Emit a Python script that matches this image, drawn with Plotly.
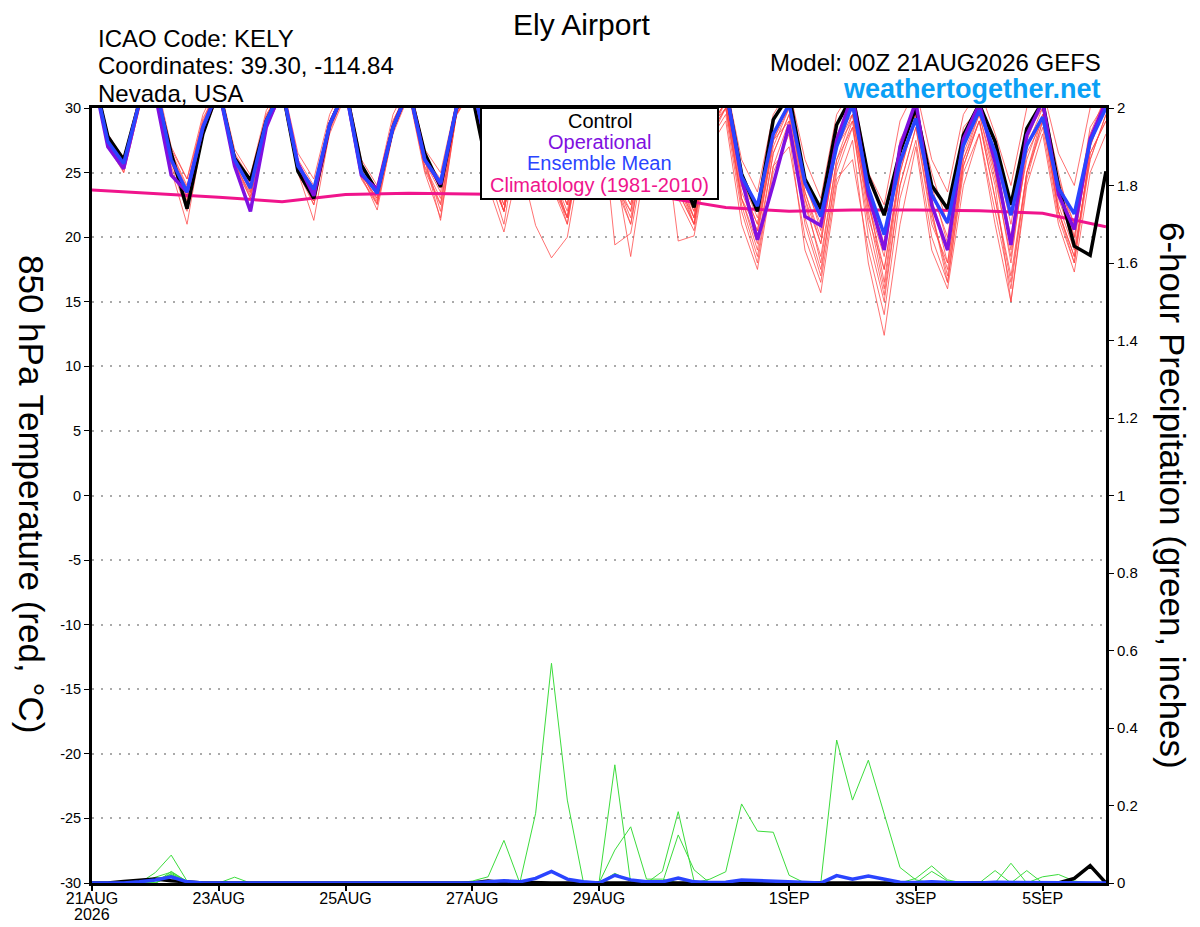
import pandas as pd
import plotly.graph_objects as go

# --- time axis: GEFS 6-hourly, 00Z 21AUG2026 -> 00Z 06SEP2026 ---
times = pd.date_range("2026-08-21 00:00", periods=65, freq="6h")
clim_days = times[::4]

tick_dates = ["2026-08-21", "2026-08-23", "2026-08-25", "2026-08-27",
              "2026-08-29", "2026-09-01", "2026-09-03", "2026-09-05"]
tick_labels = ["21AUG", "23AUG", "25AUG", "27AUG", "29AUG", "1SEP", "3SEP", "5SEP"]
temp_ticks = [-30, -25, -20, -15, -10, -5, 0, 5, 10, 15, 20, 25, 30]
temp_tick_labels = ["-30", "-25", "-20", "-15", "-10", "-5", "0", "5", "10", "15", "20", "25", "30"]

# --- 850 hPa temperature (C), values grouped per day [00Z, 06Z, 12Z, 18Z] ---
control_t = [33.0, 27.8, 26.0, 30.5, 31.5, 26.5, 22.2, 28.0, 31.5, 26.1, 24.4, 29.0,
             31.5, 25.1, 23.0, 28.7, 31.5, 25.6, 23.5, 28.5, 31.5, 26.5, 23.9, 30.0,
             31.0, 25.0, 24.0, 29.0, 31.5, 26.0, 24.0, 29.5, 31.5, 26.0, 24.0, 29.0,
             31.0, 25.5, 22.3, 29.0, 31.5, 24.9, 22.0, 29.1, 31.0, 24.5, 22.2, 28.7,
             31.0, 24.7, 21.7, 26.6, 30.0, 24.0, 22.2, 27.9, 30.3, 27.4, 22.5, 28.4,
             30.5, 24.0, 19.3, 18.6, 25.1]
operational_t = [33.0, 27.0, 25.3, 30.5, 31.0, 24.8, 23.5, 28.5, 31.5, 25.5, 22.0, 28.5,
                 31.5, 25.7, 23.2, 28.7, 31.5, 24.8, 23.7, 28.5, 31.5, 26.0, 24.1, 30.0,
                 32.0, 26.5, 24.0, 29.5, 32.0, 26.0, 24.0, 29.5, 32.0, 26.0, 24.0, 29.5,
                 32.0, 26.0, 23.5, 29.5, 31.5, 24.5, 19.8, 24.1, 28.7, 21.6, 20.9, 27.5,
                 31.0, 23.3, 19.0, 27.0, 30.5, 22.5, 19.0, 27.6, 30.3, 25.8, 19.4, 27.9,
                 30.5, 23.3, 20.6, 27.6, 30.5]
mean_t = [33.0, 27.4, 25.7, 30.5, 32.0, 26.0, 23.5, 28.5, 31.5, 26.0, 23.8, 29.0,
          31.5, 25.5, 23.7, 28.7, 31.5, 25.0, 23.4, 28.5, 31.5, 26.0, 24.2, 30.0,
          32.0, 26.5, 24.0, 29.5, 32.0, 26.0, 24.5, 29.5, 32.0, 26.5, 24.5, 29.5,
          32.0, 26.0, 24.0, 29.5, 31.5, 24.7, 22.4, 28.0, 30.3, 24.2, 21.6, 27.0,
          30.3, 23.8, 20.2, 25.8, 29.2, 23.3, 21.1, 27.1, 29.8, 26.6, 21.7, 27.1,
          29.3, 23.8, 21.8, 27.4, 30.0]
climatology_t = [23.65, 23.4, 23.1, 22.75, 23.3, 23.4, 23.35, 23.3, 23.2,
                 23.1, 22.3, 22.0, 22.1, 22.1, 22.05, 21.85, 20.8]

member_t = [
    [33.0, 27.8, 26.2, 30.8, 32.0, 26.8, 24.5, 29.0, 31.8, 26.5, 24.5, 29.5,
     31.5, 26.0, 24.0, 29.0, 31.5, 25.5, 23.8, 29.0, 31.5, 26.2, 24.5, 30.2,
     32.0, 26.5, 23.5, 29.5, 32.0, 25.5, 22.5, 29.0, 31.5, 25.5, 23.0, 29.5,
     31.5, 25.0, 22.0, 29.0, 31.0, 24.0, 21.0, 28.0, 30.5, 23.0, 19.5, 27.0,
     30.5, 22.0, 16.0, 25.0, 29.5, 22.5, 19.0, 27.0, 30.0, 26.0, 20.0, 27.5,
     30.5, 23.5, 20.0, 27.0, 30.5],
    [32.5, 27.2, 25.4, 30.2, 31.5, 25.2, 21.0, 28.0, 31.0, 25.5, 23.0, 28.5,
     31.0, 25.0, 22.5, 28.0, 31.0, 24.5, 22.5, 28.0, 31.0, 25.0, 21.5, 29.5,
     31.5, 24.0, 20.4, 26.0, 20.9, 18.4, 20.0, 27.0, 30.0, 24.0, 21.0, 27.5,
     29.5, 19.7, 20.1, 27.0, 29.0, 21.0, 17.5, 25.0, 28.0, 19.0, 15.7, 24.0,
     27.5, 18.0, 12.4, 21.0, 27.0, 19.0, 16.0, 24.0, 28.0, 21.0, 15.0, 24.0,
     28.0, 21.0, 17.3, 25.0, 28.0],
    [33.2, 28.0, 25.0, 30.0, 32.2, 26.2, 23.0, 28.3, 31.5, 26.2, 24.0, 29.2,
     31.2, 25.0, 21.3, 28.2, 31.2, 24.8, 22.1, 28.2, 31.2, 25.5, 23.0, 29.8,
     31.8, 25.5, 22.0, 29.0, 31.5, 25.0, 21.5, 28.5, 31.5, 19.4, 20.3, 27.0,
     31.0, 24.5, 21.5, 28.5, 30.5, 23.0, 19.0, 26.5, 29.5, 21.0, 17.0, 25.5,
     29.0, 20.0, 15.0, 24.0, 28.5, 21.0, 18.0, 26.0, 29.0, 23.0, 17.0, 25.0,
     29.5, 22.0, 18.5, 26.5, 29.0],
    [32.8, 27.5, 25.8, 30.6, 32.0, 26.5, 23.8, 28.8, 31.8, 26.2, 23.5, 29.0,
     31.5, 25.8, 23.5, 28.5, 31.5, 25.2, 23.2, 28.8, 31.5, 25.8, 23.5, 30.0,
     32.0, 25.5, 22.0, 29.0, 31.5, 25.0, 21.5, 28.5, 31.5, 25.5, 18.5, 26.5,
     31.0, 24.0, 21.0, 28.5, 30.5, 23.5, 20.5, 27.5, 30.0, 22.5, 18.5, 26.0,
     29.5, 21.5, 17.5, 25.5, 29.0, 22.0, 17.0, 26.0, 29.5, 24.5, 18.5, 26.5,
     29.0, 22.5, 19.0, 26.0, 29.5],
    [33.5, 28.0, 26.0, 31.0, 32.5, 27.0, 24.5, 29.5, 32.0, 26.8, 24.8, 29.8,
     32.0, 26.5, 24.5, 29.5, 32.0, 26.0, 24.0, 29.5, 32.0, 26.8, 25.0, 30.5,
     32.5, 27.0, 24.5, 30.0, 32.5, 27.0, 24.5, 30.0, 32.5, 27.0, 24.5, 30.0,
     32.0, 26.5, 24.0, 30.0, 32.0, 26.0, 23.5, 29.5, 31.5, 26.0, 23.0, 29.5,
     31.5, 25.0, 22.5, 29.0, 31.5, 26.0, 23.5, 29.5, 31.5, 28.0, 24.0, 30.0,
     31.5, 26.5, 24.0, 30.0, 32.0],
    [32.5, 27.0, 25.2, 30.2, 31.8, 25.8, 22.5, 28.2, 31.5, 25.8, 23.0, 28.8,
     31.2, 25.5, 22.8, 28.5, 31.2, 24.6, 22.6, 28.2, 31.2, 25.2, 22.5, 29.5,
     31.5, 25.0, 22.0, 28.5, 31.0, 24.0, 21.0, 28.0, 31.0, 24.5, 22.0, 28.5,
     30.5, 24.0, 21.5, 28.0, 30.0, 22.5, 18.5, 25.5, 27.0, 20.0, 16.5, 24.5,
     26.0, 19.0, 14.0, 23.0, 27.5, 20.0, 16.5, 25.0, 28.0, 22.0, 16.0, 25.0,
     28.5, 21.5, 18.0, 27.0, 30.5],
    [33.0, 27.6, 25.6, 30.4, 32.0, 26.0, 23.2, 28.6, 31.8, 26.0, 23.6, 29.0,
     31.5, 25.2, 23.2, 28.6, 31.5, 24.8, 23.0, 28.4, 31.5, 25.8, 24.0, 30.0,
     32.0, 26.0, 22.0, 29.0, 31.5, 25.5, 22.5, 29.0, 31.5, 25.0, 22.5, 29.0,
     31.0, 24.5, 22.0, 28.5, 30.5, 25.0, 20.0, 27.5, 29.0, 23.0, 18.0, 26.0,
     28.5, 22.5, 18.5, 26.5, 30.0, 23.5, 20.0, 28.0, 30.5, 25.0, 18.0, 27.0,
     30.0, 24.0, 21.0, 28.0, 31.0],
    [33.0, 27.3, 25.3, 30.5, 32.0, 25.5, 22.0, 28.5, 31.5, 25.8, 23.2, 29.0,
     31.5, 25.6, 22.5, 28.5, 31.5, 25.0, 22.8, 28.6, 31.5, 26.0, 22.0, 29.6,
     32.0, 25.5, 22.5, 29.0, 31.5, 25.0, 21.0, 28.5, 31.0, 24.0, 22.0, 28.5,
     31.0, 23.5, 21.0, 28.0, 30.0, 23.0, 19.5, 26.5, 29.5, 23.5, 20.0, 27.0,
     29.0, 23.0, 16.5, 25.5, 29.5, 22.0, 16.5, 25.5, 29.0, 24.0, 15.0, 24.5,
     29.0, 23.0, 19.5, 27.5, 30.0],
    [32.6, 27.4, 25.6, 30.4, 31.8, 26.2, 23.4, 28.6, 31.6, 26.0, 23.8, 29.2,
     31.4, 25.4, 23.3, 28.8, 31.4, 25.0, 22.6, 28.6, 31.4, 25.9, 23.8, 30.0,
     32.0, 26.0, 23.0, 29.5, 31.5, 25.5, 22.5, 29.0, 31.5, 25.5, 23.0, 29.0,
     31.0, 24.5, 21.0, 28.0, 30.5, 24.0, 21.0, 27.5, 30.5, 24.5, 20.5, 27.5,
     30.0, 23.5, 19.5, 27.0, 30.5, 24.0, 19.5, 27.5, 30.5, 26.5, 21.0, 28.0,
     30.5, 25.0, 20.0, 27.5, 31.0],
    [33.0, 27.5, 25.4, 30.6, 32.2, 26.4, 23.6, 28.8, 31.8, 26.3, 24.2, 29.2,
     31.5, 25.5, 23.6, 28.8, 31.5, 25.2, 23.4, 28.7, 31.5, 26.0, 21.3, 29.5,
     32.0, 25.0, 22.0, 28.5, 31.5, 24.5, 21.5, 28.0, 31.0, 24.5, 21.5, 28.0,
     30.5, 23.5, 21.0, 27.5, 30.0, 24.5, 21.5, 28.0, 30.0, 23.5, 19.5, 27.0,
     29.5, 22.5, 17.5, 25.0, 29.5, 23.0, 18.0, 26.5, 29.5, 25.0, 19.5, 26.0,
     29.5, 22.0, 18.5, 26.5, 29.0],
    [32.8, 27.6, 26.0, 30.8, 32.0, 26.6, 24.0, 29.2, 31.6, 26.4, 24.2, 29.4,
     31.6, 25.8, 23.8, 29.0, 31.6, 25.4, 23.6, 29.0, 31.6, 26.4, 24.2, 30.2,
     32.0, 26.0, 22.5, 29.5, 31.5, 25.0, 22.0, 29.0, 31.5, 25.0, 22.5, 29.0,
     31.0, 25.0, 21.5, 28.5, 30.0, 23.0, 20.5, 27.0, 30.0, 24.0, 21.0, 28.0,
     29.5, 24.0, 19.0, 27.5, 30.0, 25.0, 21.0, 28.5, 30.0, 26.5, 19.0, 28.0,
     30.0, 24.5, 21.0, 28.5, 30.5],
    [33.0, 27.0, 25.0, 30.0, 31.5, 25.8, 22.8, 28.2, 31.4, 25.6, 23.4, 28.8,
     31.2, 25.2, 22.8, 28.4, 31.2, 24.8, 23.0, 28.4, 31.2, 25.4, 22.6, 29.4,
     31.5, 25.0, 21.0, 28.5, 31.0, 24.0, 21.5, 28.5, 31.0, 24.5, 21.0, 28.0,
     30.5, 23.0, 20.5, 27.5, 29.5, 22.0, 18.0, 25.5, 29.0, 21.5, 17.5, 25.0,
     28.5, 21.0, 15.5, 24.0, 28.5, 21.5, 17.5, 25.5, 29.0, 23.0, 16.5, 25.0,
     29.0, 22.0, 18.0, 26.0, 29.5],
]

# --- 6-hour precipitation (inches) ---
control_p = [0, 0, 0.004, 0.008, 0.01, 0.006, 0.002, 0, 0, 0, 0, 0,
             0, 0, 0, 0, 0, 0, 0, 0, 0, 0, 0, 0,
             0, 0.005, 0, 0.002, 0, 0, 0, 0, 0, 0, 0, 0,
             0, 0, 0, 0, 0, 0, 0, 0, 0, 0, 0, 0,
             0, 0, 0, 0, 0, 0, 0, 0, 0, 0, 0, 0,
             0, 0, 0.012, 0.045, 0]
mean_p = [0, 0, 0, 0.003, 0.008, 0.016, 0.003, 0, 0, 0.002, 0, 0,
          0, 0, 0, 0, 0, 0, 0, 0, 0, 0, 0, 0,
          0, 0.003, 0.006, 0.003, 0.012, 0.03, 0.01, 0.003, 0, 0.02, 0.008, 0.003,
          0.003, 0.013, 0.003, 0.001, 0.002, 0.008, 0.006, 0.005, 0.002, 0, 0, 0.019,
          0.01, 0.018, 0.01, 0.002, 0.001, 0.003, 0.001, 0, 0, 0.002, 0.002, 0.001,
          0.001, 0.001, 0.001, 0.002, 0]

member_p = [
    [0, 0, 0, 0, 0.027, 0.072, 0.005, 0, 0, 0, 0, 0,
     0, 0, 0, 0, 0, 0, 0, 0, 0, 0, 0, 0,
     0.005, 0.016, 0.11, 0, 0.18, 0.567, 0.214, 0.005, 0, 0, 0, 0,
     0, 0, 0, 0, 0, 0, 0, 0, 0, 0, 0, 0,
     0, 0, 0, 0, 0, 0, 0, 0, 0, 0, 0, 0,
     0, 0, 0, 0, 0],
    [0, 0, 0, 0, 0, 0.03, 0.004, 0, 0, 0, 0, 0,
     0, 0, 0, 0, 0, 0, 0, 0, 0, 0, 0, 0,
     0, 0, 0, 0, 0, 0, 0, 0, 0, 0.305, 0, 0,
     0, 0, 0, 0, 0, 0, 0, 0, 0, 0, 0, 0.369,
     0.214, 0.317, 0.18, 0.04, 0.008, 0, 0, 0, 0, 0, 0, 0,
     0, 0, 0, 0, 0],
    [0, 0, 0, 0, 0, 0.025, 0.003, 0, 0, 0, 0, 0,
     0, 0, 0, 0, 0, 0, 0, 0, 0, 0, 0, 0,
     0, 0, 0, 0, 0, 0, 0, 0, 0, 0.085, 0.145, 0.01,
     0.01, 0, 0, 0, 0, 0, 0, 0, 0, 0, 0, 0,
     0, 0, 0, 0, 0, 0.03, 0.005, 0, 0, 0, 0, 0,
     0, 0, 0, 0, 0],
    [0, 0, 0, 0, 0.015, 0.028, 0.004, 0, 0, 0, 0, 0,
     0, 0, 0, 0, 0, 0, 0, 0, 0, 0, 0, 0,
     0, 0, 0, 0, 0, 0, 0, 0, 0, 0, 0, 0,
     0.03, 0.184, 0.005, 0, 0, 0, 0, 0, 0, 0, 0, 0,
     0, 0, 0, 0, 0, 0, 0, 0, 0, 0, 0.051, 0,
     0, 0, 0, 0, 0],
    [0, 0, 0, 0, 0.008, 0.022, 0.003, 0, 0, 0, 0, 0,
     0, 0, 0, 0, 0, 0, 0, 0, 0, 0, 0, 0,
     0, 0, 0, 0, 0, 0, 0, 0, 0, 0, 0, 0,
     0, 0.124, 0.034, 0, 0, 0, 0, 0, 0, 0, 0, 0,
     0, 0, 0, 0, 0, 0, 0, 0, 0, 0.032, 0, 0,
     0, 0, 0, 0, 0],
    [0, 0, 0, 0, 0, 0.02, 0, 0, 0, 0.015, 0, 0,
     0, 0, 0, 0, 0, 0, 0, 0, 0, 0, 0, 0,
     0, 0, 0, 0, 0, 0, 0, 0, 0, 0, 0, 0,
     0, 0, 0, 0.01, 0.029, 0.204, 0.134, 0.131, 0.02, 0, 0, 0,
     0, 0, 0, 0, 0, 0, 0, 0, 0, 0, 0, 0,
     0, 0, 0, 0, 0],
    [0, 0, 0, 0, 0, 0.018, 0.003, 0, 0, 0, 0, 0,
     0, 0, 0, 0, 0, 0, 0, 0, 0, 0, 0, 0,
     0, 0, 0, 0, 0, 0, 0, 0, 0, 0, 0, 0,
     0, 0, 0, 0, 0, 0, 0, 0, 0, 0, 0, 0,
     0, 0, 0, 0, 0.012, 0.044, 0.008, 0, 0, 0, 0, 0.032,
     0, 0, 0, 0, 0],
    [0, 0, 0, 0, 0.012, 0.015, 0.002, 0, 0, 0, 0, 0,
     0, 0, 0, 0, 0, 0, 0, 0, 0, 0, 0, 0,
     0, 0, 0, 0, 0, 0, 0, 0, 0, 0.025, 0.005, 0.004,
     0, 0, 0, 0, 0, 0, 0, 0, 0, 0, 0, 0,
     0, 0, 0, 0, 0, 0, 0, 0, 0, 0, 0, 0,
     0.016, 0.022, 0.005, 0, 0],
]

FONT = "Liberation Sans, Arial, Helvetica, sans-serif"
RED = "rgba(255,70,70,0.85)"
GREEN = "#3cdc3c"
BLACK = "#000000"
PURPLE = "#8010e0"
BLUE = "#2a44ff"
PINK = "#f0148c"

fig = go.Figure()

for m in member_t:
    fig.add_trace(go.Scatter(x=times, y=m, mode="lines", yaxis="y",
                             line=dict(color=RED, width=0.9)))
for p in member_p:
    fig.add_trace(go.Scatter(x=times, y=p, mode="lines", yaxis="y2",
                             line=dict(color=GREEN, width=1)))

fig.add_trace(go.Scatter(x=clim_days, y=climatology_t, mode="lines", yaxis="y",
                         line=dict(color=PINK, width=3)))
fig.add_trace(go.Scatter(x=times, y=control_t, mode="lines", yaxis="y",
                         line=dict(color=BLACK, width=3.5)))
fig.add_trace(go.Scatter(x=times, y=operational_t, mode="lines", yaxis="y",
                         line=dict(color=PURPLE, width=3.5)))
fig.add_trace(go.Scatter(x=times, y=mean_t, mode="lines", yaxis="y",
                         line=dict(color=BLUE, width=3.5)))
fig.add_trace(go.Scatter(x=times, y=control_p, mode="lines", yaxis="y2",
                         line=dict(color=BLACK, width=3.5)))
fig.add_trace(go.Scatter(x=times, y=mean_p, mode="lines", yaxis="y2",
                         line=dict(color=BLUE, width=3.5)))

# paper coords from screen pixel positions of the plot box (92..1106, 108..883)
def px(x):
    return (x - 92) / 1014

def py(y):
    return (883 - y) / 775

ann = [
    dict(text="Ely Airport", x=px(581), y=py(25), xanchor="center", size=30, color="black"),
    dict(text="ICAO Code: KELY", x=px(97), y=py(39), xanchor="left", size=24, color="black"),
    dict(text="Coordinates: 39.30, -114.84", x=px(97), y=py(66), xanchor="left", size=24, color="black"),
    dict(text="Nevada, USA", x=px(97), y=py(93), xanchor="left", size=24, color="black"),
    dict(text="Model: 00Z 21AUG2026 GEFS", x=px(1102), y=py(63), xanchor="right", size=24, color="black"),
    dict(text="<b>weathertogether.net</b>", x=px(1102), y=py(89), xanchor="right", size=27, color="#0aa0f5"),
    dict(text="Control", x=px(599.5), y=py(121), xanchor="center", size=20, color=BLACK),
    dict(text="Operational", x=px(599.5), y=py(142), xanchor="center", size=20, color=PURPLE),
    dict(text="Ensemble Mean", x=px(599.5), y=py(163), xanchor="center", size=20, color=BLUE),
    dict(text="Climatology (1981-2010)", x=px(599.5), y=py(185), xanchor="center", size=20, color=PINK),
    dict(text="2026", x=px(92), y=py(914), xanchor="center", size=16, color="black"),
]
annotations = [dict(text=a["text"], x=a["x"], y=a["y"], xref="paper", yref="paper",
                    xanchor=a["xanchor"], yanchor="middle", showarrow=False, borderpad=0,
                    font=dict(family=FONT, size=a["size"], color=a["color"]))
               for a in ann]
annotations.append(dict(text="850 hPa Temperature (red, °C)", x=px(32), y=py(494),
                        xref="paper", yref="paper", textangle=90, showarrow=False,
                        xanchor="center", yanchor="middle",
                        font=dict(family=FONT, size=35, color="black")))
annotations.append(dict(text="6-hour Precipitation (green, inches)", x=px(1173), y=py(495),
                        xref="paper", yref="paper", textangle=90, showarrow=False,
                        xanchor="center", yanchor="middle",
                        font=dict(family=FONT, size=35, color="black")))

# page body has an 8px margin, so the figure is sized / offset to land on the 1200x927 view
fig.update_layout(
    width=1192, height=919,
    margin=dict(l=84, r=94, t=100, b=44),
    paper_bgcolor="white", plot_bgcolor="white",
    showlegend=False,
    font=dict(family=FONT, color="black"),
    annotations=annotations,
    shapes=[dict(type="rect", xref="paper", yref="paper",
                 x0=px(481), x1=px(718), y0=py(199), y1=1.0,
                 fillcolor="white", line=dict(color="black", width=2), layer="above")],
    xaxis=dict(type="date", range=[times[0], times[-1]],
               tickvals=tick_dates, ticktext=tick_labels,
               ticks="outside", ticklen=5, tickwidth=2, tickcolor="black",
               ticklabelstandoff=-6,
               tickfont=dict(size=16),
               showline=True, linewidth=3, linecolor="black", mirror=True,
               showgrid=False, zeroline=False, automargin=False),
    yaxis=dict(range=[-30, 30], tickvals=temp_ticks, ticktext=temp_tick_labels,
               ticks="outside", ticklen=5, tickwidth=1, tickcolor="black",
               tickfont=dict(size=14.5),
               showgrid=True, gridcolor="#aaaaaa", gridwidth=1.5, griddash="2px,7px",
               showline=True, linewidth=3, linecolor="black", mirror=True,
               zeroline=False, automargin=False),
    yaxis2=dict(range=[0, 2], dtick=0.2, tick0=0, overlaying="y", side="right",
                ticks="outside", ticklen=5, tickwidth=1, tickcolor="black",
                tickfont=dict(size=15),
                showgrid=False, showline=True, linewidth=3, linecolor="black",
                zeroline=False, automargin=False),
)

fig.write_html("out.html")
